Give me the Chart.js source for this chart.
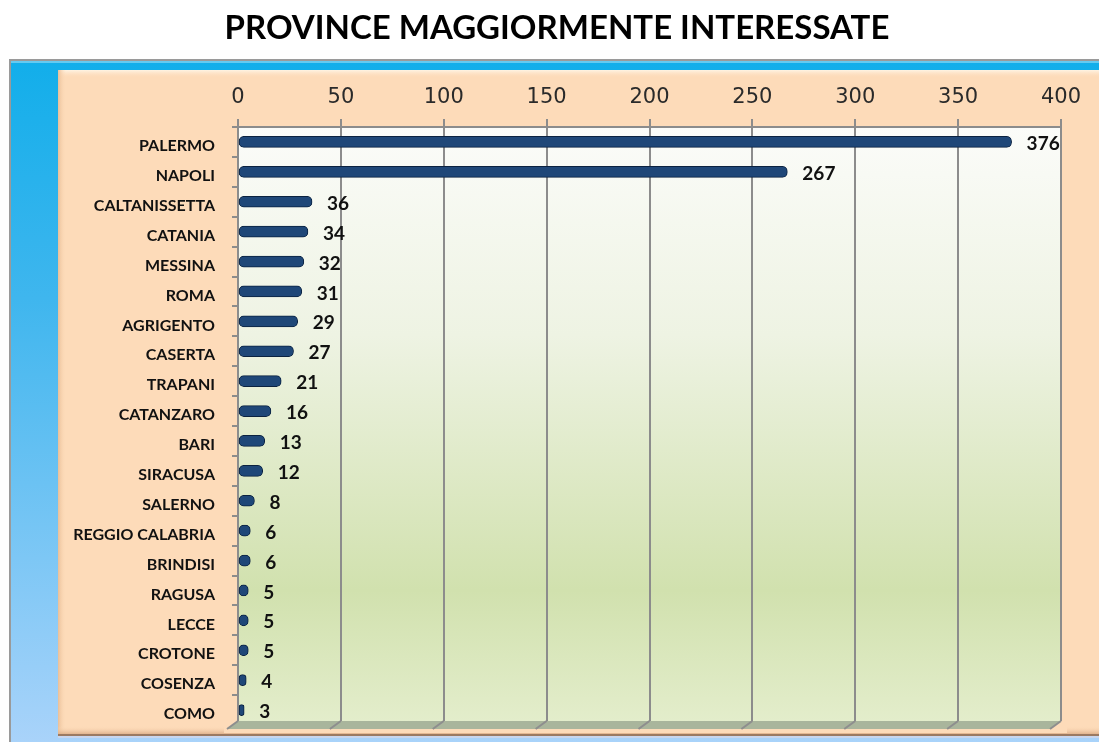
<!DOCTYPE html>
<html>
<head>
<meta charset="utf-8">
<script src="https://cdn.jsdelivr.net/npm/chart.js@4/dist/chart.umd.min.js"></script>
<style>
  html, body { margin: 0; padding: 0; background: #ffffff; }
  #wrap { width: 1099px; height: 742px; position: relative; }
</style>
</head>
<body>
<div id="wrap"><canvas id="c" width="1099" height="742"></canvas></div>
<script>
const titleText = 'PROVINCE MAGGIORMENTE INTERESSATE';
const categories = ['PALERMO','NAPOLI','CALTANISSETTA','CATANIA','MESSINA','ROMA','AGRIGENTO','CASERTA','TRAPANI','CATANZARO','BARI','SIRACUSA','SALERNO','REGGIO CALABRIA','BRINDISI','RAGUSA','LECCE','CROTONE','COSENZA','COMO'];
const values = [376,267,36,34,32,31,29,27,21,16,13,12,8,6,6,5,5,5,4,3];
const axisMin = 0;
const axisMax = 400;
const axisStep = 50;

const framePlugin = {
  id: 'frame',
  beforeDraw(chart) {
    const ctx = chart.ctx;
    const W = chart.width, H = chart.height;
    ctx.save();
    ctx.fillStyle = '#ffffff';
    ctx.fillRect(0, 0, W, H);
    // outer blue frame
    let g = ctx.createLinearGradient(0, 60, 0, H);
    g.addColorStop(0, '#12aeea');
    g.addColorStop(0.35, '#3fb6ee');
    g.addColorStop(1, '#a9d3fa');
    ctx.fillStyle = g;
    ctx.fillRect(10, 60, W - 10, H - 60);
    ctx.fillStyle = '#9a9a9a';
    ctx.fillRect(9, 59, W - 9, 2);
    ctx.fillRect(9, 59, 2, H - 59);
    ctx.fillStyle = 'rgba(255,255,255,0.35)';
    ctx.fillRect(11, 61, W - 11, 2);
    // peach panel with bevel
    ctx.fillStyle = '#fddbb9';
    ctx.fillRect(58, 70, W - 58, 665);
    g = ctx.createLinearGradient(0, 70, 0, 78);
    g.addColorStop(0, '#fff4e4');
    g.addColorStop(1, 'rgba(253,219,185,0)');
    ctx.fillStyle = g;
    ctx.fillRect(58, 70, W - 58, 8);
    g = ctx.createLinearGradient(58, 0, 66, 0);
    g.addColorStop(0, '#e9bf98');
    g.addColorStop(1, 'rgba(253,219,185,0)');
    ctx.fillStyle = g;
    ctx.fillRect(58, 70, 8, 665);
    g = ctx.createLinearGradient(0, 726, 0, 735);
    g.addColorStop(0, 'rgba(253,219,185,0)');
    g.addColorStop(1, '#d9a982');
    ctx.fillStyle = g;
    ctx.fillRect(58, 726, W - 58, 9);
    ctx.fillStyle = '#9b7a62';
    ctx.fillRect(58, 734, W - 58, 2);
    ctx.fillStyle = '#c9d6ee';
    ctx.fillRect(58, 736, W - 58, 2);
    // back wall
    const a = chart.chartArea;
    const wallTop = a.top, wallBottom = a.bottom - 4;
    g = ctx.createLinearGradient(0, wallTop, 0, wallBottom);
    g.addColorStop(0, '#fbfcf9');
    g.addColorStop(0.35, '#eef3e3');
    g.addColorStop(0.78, '#d1e1ae');
    g.addColorStop(1, '#e3edcb');
    ctx.fillStyle = g;
    ctx.fillRect(a.left, wallTop, a.right - a.left, wallBottom - wallTop);
    ctx.restore();
  },
  beforeDatasetsDraw(chart) {
    const ctx = chart.ctx;
    const a = chart.chartArea;
    const backY = a.bottom - 4, frontY = a.bottom + 4;
    ctx.save();
    ctx.fillStyle = '#fddbb9';
    ctx.fillRect(a.left - 14, backY, a.right - a.left + 20, 12);
    ctx.beginPath();
    ctx.moveTo(a.left, backY);
    ctx.lineTo(a.right, backY);
    ctx.lineTo(a.right - 11, frontY);
    ctx.lineTo(a.left - 11, frontY);
    ctx.closePath();
    ctx.fillStyle = '#a9b59c';
    ctx.fill();
    const xs = chart.scales.x;
    ctx.strokeStyle = '#8e8e8e';
    ctx.lineWidth = 2;
    for (let v = axisMin; v <= axisMax; v += axisStep) {
      const px = xs.getPixelForValue(v);
      ctx.beginPath();
      ctx.moveTo(px, backY);
      ctx.lineTo(px - 11, frontY);
      ctx.stroke();
    }
    ctx.restore();
  }
};

const labelPlugin = {
  id: 'valueLabels',
  afterDatasetsDraw(chart) {
    const ctx = chart.ctx;
    const meta = chart.getDatasetMeta(0);
    ctx.save();
    ctx.font = 'bold 19px Lato';
    ctx.fillStyle = '#111111';
    ctx.textAlign = 'left';
    ctx.textBaseline = 'middle';
    meta.data.forEach((bar, i) => {
      ctx.fillText(String(values[i]), bar.x + 15, bar.y + 2);
    });
    ctx.restore();
  }
};

function barGradient(context) {
  const el = context.element;
  if (!el || el.y == null || isNaN(el.y)) return '#1f4778';
  const g = context.chart.ctx.createLinearGradient(0, el.y - 6, 0, el.y + 6);
  g.addColorStop(0, '#5d86b8');
  g.addColorStop(0.3, '#2a5a91');
  g.addColorStop(0.7, '#1b406f');
  g.addColorStop(1, '#0c2546');
  return g;
}

new Chart(document.getElementById('c'), {
  type: 'bar',
  data: {
    labels: categories,
    datasets: [{
      data: values,
      backgroundColor: barGradient,
      borderColor: '#0b2240',
      borderWidth: 1,
      borderSkipped: false,
      borderRadius: 5,
      barThickness: 11
    }]
  },
  plugins: [framePlugin, labelPlugin],
  options: {
    indexAxis: 'y',
    responsive: false,
    animation: false,
    layout: { padding: { left: 53, right: 38, top: 0, bottom: 17 } },
    plugins: {
      legend: { display: false },
      tooltip: { enabled: false },
      title: {
        display: true,
        text: titleText,
        color: '#000000',
        font: { family: 'Lato', size: 33, weight: 'bold', lineHeight: 1.2 },
        padding: { top: 9, bottom: 0 }
      }
    },
    scales: {
      x: {
        position: 'top',
        min: axisMin,
        max: axisMax,
        ticks: {
          stepSize: axisStep,
          color: '#2a2a2a',
          font: { family: 'DejaVu Sans', size: 21 },
          padding: 9
        },
        grid: {
          color: '#8c8c8c',
          lineWidth: 2,
          drawTicks: true,
          tickLength: 8,
          tickColor: '#8c8c8c'
        },
        border: { display: true, color: '#8c8c8c', width: 2 },
        afterFit(scale) { scale.height = 78.4; }
      },
      y: {
        ticks: {
          color: '#111111',
          font: { family: 'Lato', size: 16, weight: 'bold' },
          padding: 17,
          labelOffset: 4,
          autoSkip: false
        },
        grid: {
          offset: true,
          drawOnChartArea: false,
          drawTicks: true,
          tickLength: 6,
          tickColor: '#8c8c8c',
          lineWidth: 2
        },
        border: { display: true, color: '#8c8c8c', width: 2 },
        afterFit(scale) { scale.width = 185; scale.paddingTop = 0; scale.paddingBottom = 0; }
      }
    }
  }
});
</script>
</body>
</html>
